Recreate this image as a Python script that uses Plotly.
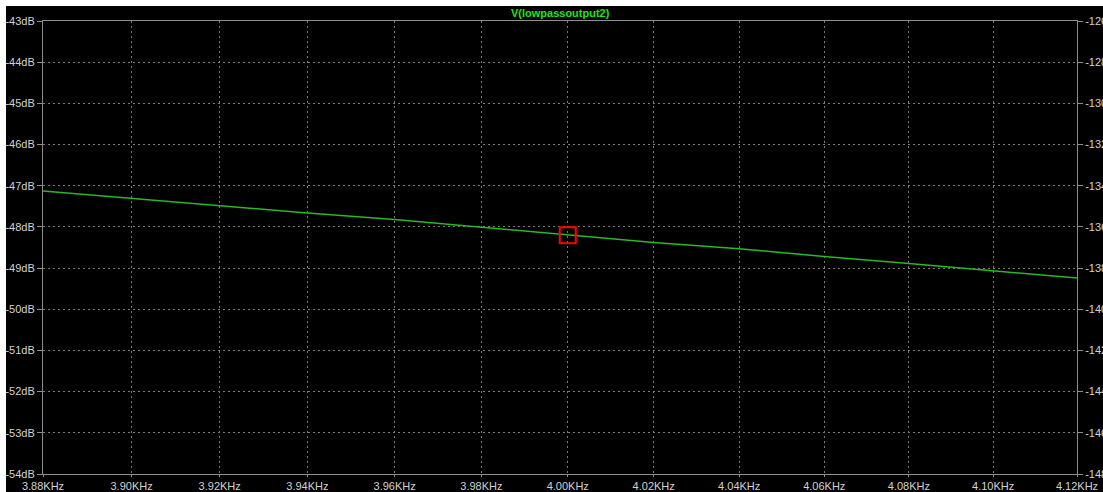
import math
import plotly.graph_objects as go

# AC sweep of V(lowpassoutput2): frequency (kHz) and magnitude (dB)
freq_khz = [3.88, 3.90, 3.92, 3.94, 3.96, 3.98, 4.00, 4.02, 4.04, 4.06, 4.08, 4.10, 4.12]
mag_db = [-47.13, -47.31, -47.49, -47.66, -47.82, -48.01, -48.20, -48.38, -48.53, -48.72, -48.89, -49.06, -49.24]

# Axis tick values
db_ticks = [-43, -44, -45, -46, -47, -48, -49, -50, -51, -52, -53, -54]
phase_ticks = [-126, -128, -130, -132, -134, -136, -138, -140, -142, -144, -146, -148]

# Cursor position on the trace
cursor_khz = 4.00

freq_hz = [f * 1000 for f in freq_khz]
cursor_db = mag_db[freq_khz.index(cursor_khz)]

W, H = 1103, 492
ML, MR, MT, MB = 43, 26, 21, 18
PW, PH = W - ML - MR, H - MT - MB

GRID = "#7a7a7a"
AXIS = "#8f8f8f"
LABEL = "#d2d2d2"
FONT = "Liberation Sans"

fig = go.Figure()

fig.add_trace(go.Scatter(
    x=freq_hz, y=mag_db, mode="lines",
    line=dict(color="#28b828", width=1.5),
    hoverinfo="skip", showlegend=False,
))

fig.add_trace(go.Scatter(
    x=[cursor_khz * 1000], y=[cursor_db], mode="markers",
    marker=dict(symbol="square-open", size=16, color="#ff0000",
                line=dict(color="#ff0000", width=2)),
    hoverinfo="skip", showlegend=False,
))

# invisible trace so the phase axis is drawn
fig.add_trace(go.Scatter(
    x=[freq_hz[0]], y=[phase_ticks[0]], yaxis="y2", mode="markers",
    marker=dict(opacity=0), hoverinfo="skip", showlegend=False,
))

fig.update_layout(
    width=W, height=H,
    margin=dict(l=ML, r=MR, t=MT, b=MB, pad=0, autoexpand=False),
    paper_bgcolor="#000000",
    plot_bgcolor="#000000",
    font=dict(family=FONT, size=11, color=LABEL),
    xaxis=dict(
        type="log", automargin=False,
        range=[math.log10(freq_hz[0]), math.log10(freq_hz[-1])],
        tickvals=freq_hz,
        ticktext=[f"{f:.2f}KHz" for f in freq_khz],
        showgrid=True, gridcolor=GRID, griddash="2px,3px", gridwidth=1,
        showline=True, linecolor=AXIS, linewidth=1, mirror=True,
        ticks="outside", ticklen=2, tickcolor=AXIS,
        tickfont=dict(family=FONT, size=11, color=LABEL),
        zeroline=False,
    ),
    yaxis=dict(
        automargin=False,
        range=[db_ticks[-1], db_ticks[0]],
        tickvals=db_ticks,
        ticktext=[f"{v}dB" for v in db_ticks],
        showgrid=True, gridcolor=GRID, griddash="2px,3px", gridwidth=1,
        showline=True, linecolor=AXIS, linewidth=1,
        ticks="outside", ticklen=5, tickcolor=AXIS,
        tickfont=dict(family=FONT, size=11, color=LABEL),
        zeroline=False,
    ),
    yaxis2=dict(
        overlaying="y", side="right", anchor="x", automargin=False,
        range=[phase_ticks[-1], phase_ticks[0]],
        tickvals=phase_ticks,
        ticktext=[f"{v}°" for v in phase_ticks],
        showgrid=False,
        showline=True, linecolor=AXIS, linewidth=1,
        ticks="outside", ticklen=5, tickcolor=AXIS,
        tickfont=dict(family=FONT, size=11, color=LABEL),
        zeroline=False,
    ),
    annotations=[dict(
        text="<b>V(lowpassoutput2)</b>", xref="paper", yref="paper",
        x=0.5, y=(H - 13 - MB) / PH, xanchor="center", yanchor="middle",
        showarrow=False, font=dict(family=FONT, size=11, color="#22e022"),
    )],
    shapes=[
        # white border strips along the top and left edges
        dict(type="rect", xref="paper", yref="paper",
             x0=-ML / PW - 0.01, x1=1 + MR / PW + 0.01,
             y0=(H - MB - 6) / PH, y1=(H - MB) / PH + 0.01,
             fillcolor="#ffffff", line=dict(width=0), layer="below"),
        dict(type="rect", xref="paper", yref="paper",
             x0=-ML / PW - 0.01, x1=(6 - ML) / PW,
             y0=-MB / PH - 0.01, y1=(H - MB) / PH + 0.01,
             fillcolor="#ffffff", line=dict(width=0), layer="below"),
    ],
)

fig.write_html("out.html")
